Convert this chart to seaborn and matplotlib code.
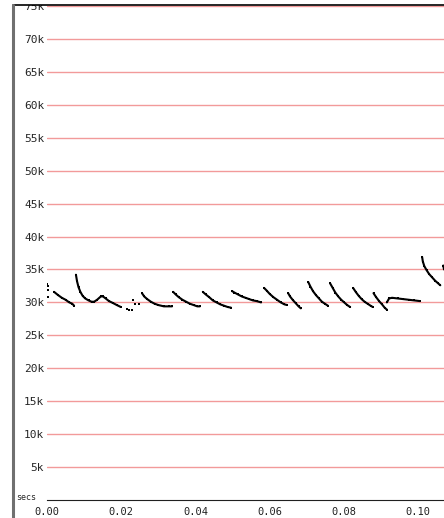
import numpy as np
import pandas as pd
import seaborn as sns
import matplotlib.pyplot as plt
from matplotlib.patches import Rectangle
from matplotlib.lines import Line2D

# frequency track, one id per unbroken stretch of dots
times = [0.0000, 0.0002, 0.0003, 0.0004,
         0.0019, 0.0030, 0.0040, 0.0050, 0.0060, 0.0068, 0.0073,
         0.0078, 0.0081, 0.0085, 0.0090, 0.0096, 0.0103, 0.0112, 0.0120, 0.0127,
         0.0135, 0.0145, 0.0151, 0.0158, 0.0167, 0.0178, 0.0188, 0.0199,
         0.0216, 0.0222, 0.0230, 0.0232, 0.0238, 0.0248,
         0.0256, 0.0262, 0.0270, 0.0280, 0.0290, 0.0300, 0.0315, 0.0328, 0.0337,
         0.0340, 0.0347, 0.0355, 0.0365, 0.0375, 0.0385, 0.0395, 0.0405, 0.0412,
         0.0420, 0.0428, 0.0437, 0.0447, 0.0457, 0.0467, 0.0477, 0.0487, 0.0496,
         0.0499, 0.0505, 0.0515, 0.0525, 0.0535, 0.0545, 0.0555, 0.0565, 0.0577,
         0.0585, 0.0592, 0.0600, 0.0610, 0.0620, 0.0630, 0.0640, 0.0647,
         0.0650, 0.0655, 0.0662, 0.0670, 0.0678, 0.0684,
         0.0704, 0.0710, 0.0717, 0.0725, 0.0733, 0.0741, 0.0749, 0.0757,
         0.0763, 0.0770, 0.0777, 0.0785, 0.0793, 0.0801, 0.0809, 0.0817,
         0.0825, 0.0832, 0.0840, 0.0848, 0.0856, 0.0864, 0.0872, 0.0878,
         0.0880, 0.0887, 0.0895, 0.0903, 0.0910, 0.0916,
         0.0916, 0.0922, 0.0930, 0.0945, 0.0960, 0.0975, 0.0990, 0.1005,
         0.1011, 0.1013, 0.1017, 0.1023, 0.1030, 0.1038, 0.1046, 0.1054, 0.1060,
         0.1068, 0.1070]
freqs = [32800, 32500, 31900, 30800,
         31600, 31100, 30700, 30400, 30000, 29800, 29500,
         34200, 33200, 32300, 31600, 31000, 30600, 30300, 30100, 30100,
         30400, 30900, 30900, 30600, 30200, 29900, 29600, 29300,
         29000, 28800, 28900, 30300, 29800, 29700,
         31400, 30900, 30500, 30100, 29800, 29600, 29400, 29400, 29400,
         31600, 31200, 30800, 30400, 30100, 29800, 29600, 29400, 29400,
         31600, 31200, 30800, 30300, 30000, 29700, 29500, 29300, 29200,
         31700, 31500, 31200, 30900, 30700, 30500, 30300, 30200, 30000,
         32200, 31800, 31300, 30800, 30400, 30000, 29700, 29600,
         31400, 30900, 30400, 29900, 29400, 29100,
         33100, 32400, 31700, 31100, 30600, 30100, 29800, 29500,
         32900, 32200, 31500, 30900, 30400, 30000, 29600, 29300,
         32200, 31600, 31000, 30500, 30100, 29800, 29500, 29300,
         31400, 30800, 30200, 29700, 29200, 28900,
         30000, 30600, 30700, 30600, 30500, 30400, 30300, 30200,
         36900, 36200, 35500, 34900, 34300, 33800, 33300, 32900, 32600,
         35600, 35000]
segment = [0, 1, 2, 3,
           4, 4, 4, 4, 4, 4, 4,
           5, 5, 5, 5, 5, 5, 5, 5, 5, 5, 5, 5, 5, 5, 5, 5, 5,
           6, 7, 8, 9, 10, 11,
           12, 12, 12, 12, 12, 12, 12, 12, 12,
           13, 13, 13, 13, 13, 13, 13, 13, 13,
           14, 14, 14, 14, 14, 14, 14, 14, 14,
           15, 15, 15, 15, 15, 15, 15, 15, 15,
           16, 16, 16, 16, 16, 16, 16, 16,
           17, 17, 17, 17, 17, 17,
           18, 18, 18, 18, 18, 18, 18, 18,
           19, 19, 19, 19, 19, 19, 19, 19,
           20, 20, 20, 20, 20, 20, 20, 20,
           21, 21, 21, 21, 21, 21,
           22, 22, 22, 22, 22, 22, 22, 22,
           23, 23, 23, 23, 23, 23, 23, 23, 23,
           24, 24]

y_ticks = np.arange(5000, 75001, 5000)
y_labels = ['%dk' % (v // 1000) for v in y_ticks]
x_ticks = [0.00, 0.02, 0.04, 0.06, 0.08, 0.10]
x_labels = ['0.00', '0.02', '0.04', '0.06', '0.08', '0.10']

df = pd.DataFrame({'t': times, 'f': freqs, 'seg': segment})

sns.set_style('white')
plt.rcParams['font.family'] = ['DejaVu Sans Mono', 'DejaVu Sans']

W, H = 444, 518
fig = plt.figure(figsize=(W / 100, H / 100), dpi=100)
ax = fig.add_axes([47 / W, (H - 500) / H, (W - 47) / W, (500 - 6) / H])

sns.lineplot(data=df, x='t', y='f', units='seg', estimator=None, color='black',
             lw=1.5, marker='s', markersize=1.8, markeredgewidth=0, ax=ax, legend=False)

ax.set_xlim(0, 0.107)
ax.set_ylim(0, 75000)
ax.set_yticks(y_ticks)
ax.set_yticklabels(y_labels, fontsize=8)
ax.set_xticks(x_ticks)
ax.set_xticklabels(x_labels, fontsize=7.5)
ax.set_xticks(np.arange(0.01, 0.107, 0.02), minor=True)
ax.tick_params(axis='y', length=0, pad=2)
ax.tick_params(axis='x', which='major', length=4, width=0.8, direction='out', pad=1, colors='#202020')
ax.tick_params(axis='x', which='minor', length=2, width=0.8, direction='out', colors='#202020')
ax.set_xlabel('')
ax.set_ylabel('')
ax.grid(axis='y', color='#f29a9a', lw=1.0)
ax.set_axisbelow(True)
for s in ['left', 'right', 'top']:
    ax.spines[s].set_visible(False)
ax.spines['bottom'].set_color('#202020')
ax.spines['bottom'].set_linewidth(0.8)

# frame pieces: white strip above the top rule, black top rule, gray left bar
fig.add_artist(Rectangle((0, (H - 5) / H), 1, 5 / H, transform=fig.transFigure,
                         facecolor='white', edgecolor='none', zorder=5))
fig.add_artist(Line2D([13 / W, 1], [(H - 5) / H] * 2, transform=fig.transFigure,
                      color='black', lw=1.2, zorder=6))
fig.add_artist(Line2D([13 / W, 13 / W], [0, (H - 5) / H], transform=fig.transFigure,
                      color='#707070', lw=2.2, zorder=6))
fig.text(16 / W, (H - 497) / H, 'secs', fontsize=6, va='center', ha='left')

plt.savefig('out.png', dpi=100)
